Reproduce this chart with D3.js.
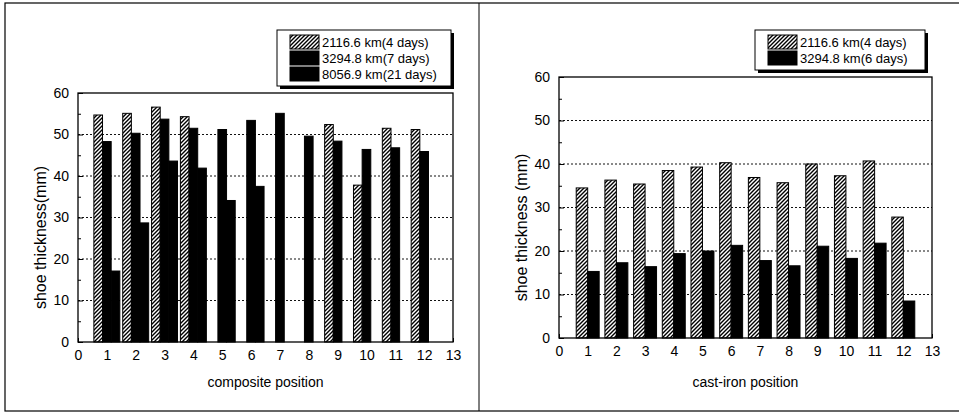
<!DOCTYPE html>
<html>
<head>
<meta charset="utf-8">
<script src="https://cdn.jsdelivr.net/npm/d3@7"></script>
<style>
  body { margin: 0; background: #fff; }
  svg { display: block; font-family: "Liberation Sans", Arial, sans-serif; }
  .grid line { stroke: #111; stroke-dasharray: 2,2; stroke-width: 1; }
</style>
</head>
<body>
<div id="chart"></div>
<script>
// positions along the train (x axis)
var positions = [1, 2, 3, 4, 5, 6, 7, 8, 9, 10, 11, 12];
var xTicks = d3.range(0, 14);
var yTicks = [0, 10, 20, 30, 40, 50, 60];

// composite shoes (left)
var compNames = ["2116.6 km(4 days)", "3294.8 km(7 days)", "8056.9 km(21 days)"];
var comp4d  = [54.7, 55.1, 56.6, 54.3, null, null, null, null, 52.4, 37.8, 51.5, 51.2];
var comp7d  = [48.3, 50.3, 53.7, 51.5, 51.2, 53.4, 55.1, 49.6, 48.4, 46.4, 46.8, 45.9];
var comp21d = [17.1, 28.7, 43.6, 41.9, 34.1, 37.5, null, null, null, null, null, null];

// cast-iron shoes (right)
var castNames = ["2116.6 km(4 days)", "3294.8 km(6 days)"];
var cast4d = [34.5, 36.3, 35.4, 38.5, 39.3, 40.3, 36.9, 35.7, 40.0, 37.3, 40.7, 27.8];
var cast6d = [15.3, 17.3, 16.4, 19.4, 20.0, 21.3, 17.8, 16.6, 21.1, 18.3, 21.8, 8.5];

var svg = d3.select("#chart").append("svg")
    .attr("width", 959)
    .attr("height", 415);

var defs = svg.append("defs");
var pat = defs.append("pattern")
    .attr("id", "hatch")
    .attr("patternUnits", "userSpaceOnUse")
    .attr("width", 4)
    .attr("height", 4);
pat.append("rect").attr("width", 4).attr("height", 4).attr("fill", "#fff");
pat.append("path")
    .attr("d", "M-1,1 l2,-2 M0,4 l4,-4 M3,5 l2,-2")
    .attr("stroke", "#000")
    .attr("stroke-width", 1.4);

// outer frame + divider
svg.append("rect")
    .attr("x", 5).attr("y", 3)
    .attr("width", 960).attr("height", 408)
    .attr("fill", "none").attr("stroke", "#000").attr("stroke-width", 1.2);
svg.append("line")
    .attr("x1", 479).attr("x2", 479).attr("y1", 3).attr("y2", 411)
    .attr("stroke", "#000").attr("stroke-width", 1);

function drawChart(opt) {
    var x = d3.scaleLinear().domain([0, 13]).range([opt.left, opt.right]);
    var y = d3.scaleLinear().domain([0, 60]).range([opt.bottom, opt.top]);
    var unit = x(1) - x(0);
    var bw = unit * opt.barFrac;

    var g = svg.append("g");

    // grid lines
    g.append("g").attr("class", "grid")
        .selectAll("line")
        .data([10, 20, 30, 40, 50])
        .enter().append("line")
        .attr("x1", opt.left).attr("x2", opt.right)
        .attr("y1", function(d) { return y(d); })
        .attr("y2", function(d) { return y(d); });

    // bars
    opt.series.forEach(function(s, si) {
        g.append("g").selectAll("rect")
            .data(positions.map(function(p, i) { return {p: p, v: s.values[i]}; })
                .filter(function(d) { return d.v != null; }))
            .enter().append("rect")
            .attr("x", function(d) { return x(d.p) + (si + opt.offset) * bw; })
            .attr("y", function(d) { return y(d.v); })
            .attr("width", bw)
            .attr("height", function(d) { return y(0) - y(d.v); })
            .attr("fill", s.fill)
            .attr("stroke", "#000")
            .attr("stroke-width", 1);
    });

    // axes (ticks inward)
    var yAxis = d3.axisLeft(y).tickValues(yTicks).tickSize(-5).tickPadding(9);
    var yMinor = d3.axisLeft(y).tickValues(d3.range(5, 60, 10)).tickSize(-3).tickFormat("");
    var xAxis = d3.axisBottom(x).tickValues(xTicks).tickSize(-4).tickPadding(8).tickFormat(d3.format("d"));

    g.append("g").attr("transform", "translate(" + opt.left + ",0)").call(yAxis)
        .call(function(a) { a.select(".domain").remove(); })
        .selectAll("text").style("font-size", "14px").attr("fill", "#000");
    g.append("g").attr("transform", "translate(" + opt.left + ",0)").call(yMinor)
        .select(".domain").remove();
    g.append("g").attr("transform", "translate(0," + opt.bottom + ")").call(xAxis)
        .call(function(a) { a.select(".domain").remove(); })
        .selectAll("text").style("font-size", "14px").attr("fill", "#000");

    // plot frame
    g.append("rect")
        .attr("x", opt.left).attr("y", opt.top)
        .attr("width", opt.right - opt.left).attr("height", opt.bottom - opt.top)
        .attr("fill", "none").attr("stroke", "#000").attr("stroke-width", 1.3);

    // axis titles
    g.append("text")
        .attr("transform", "translate(" + opt.ylabX + "," + ((opt.top + opt.bottom) / 2 + 20) + ") rotate(-90)")
        .attr("text-anchor", "middle")
        .style("font-size", "16px")
        .text(opt.ylab);
    g.append("text")
        .attr("x", (opt.left + opt.right) / 2)
        .attr("y", 387)
        .attr("text-anchor", "middle")
        .style("font-size", "14px")
        .text(opt.xlab);

    // legend with drop shadow
    var lg = opt.legend;
    var lh = opt.series.length * 16 + 8;
    g.append("rect")
        .attr("x", lg.x + 3).attr("y", lg.y + 3)
        .attr("width", lg.w).attr("height", lh)
        .attr("fill", "#000");
    g.append("rect")
        .attr("x", lg.x).attr("y", lg.y)
        .attr("width", lg.w).attr("height", lh)
        .attr("fill", "#fff").attr("stroke", "#000").attr("stroke-width", 1);
    opt.series.forEach(function(s, i) {
        var ry = lg.y + 5 + i * 16;
        g.append("rect")
            .attr("x", lg.x + 13).attr("y", ry)
            .attr("width", 29).attr("height", 14)
            .attr("fill", s.fill)
            .attr("stroke", "#000").attr("stroke-width", 1);
        g.append("text")
            .attr("x", lg.x + 45).attr("y", ry + 12)
            .style("font-size", "13px")
            .text(s.name);
    });
}

drawChart({
    left: 78, right: 453, top: 93, bottom: 342,
    barFrac: 0.3, offset: -1.5,
    ylab: "shoe thickness(mm)", ylabX: 46,
    xlab: "composite position",
    legend: {x: 277, y: 30, w: 174},
    series: [
        {name: compNames[0], values: comp4d, fill: "url(#hatch)"},
        {name: compNames[1], values: comp7d, fill: "#000"},
        {name: compNames[2], values: comp21d, fill: "#000"}
    ]
});

drawChart({
    left: 559, right: 932, top: 77, bottom: 338,
    barFrac: 0.4, offset: -1,
    ylab: "shoe thickness (mm)", ylabX: 527,
    xlab: "cast-iron position",
    legend: {x: 755, y: 30, w: 170},
    series: [
        {name: castNames[0], values: cast4d, fill: "url(#hatch)"},
        {name: castNames[1], values: cast6d, fill: "#000"}
    ]
});
</script>
</body>
</html>
